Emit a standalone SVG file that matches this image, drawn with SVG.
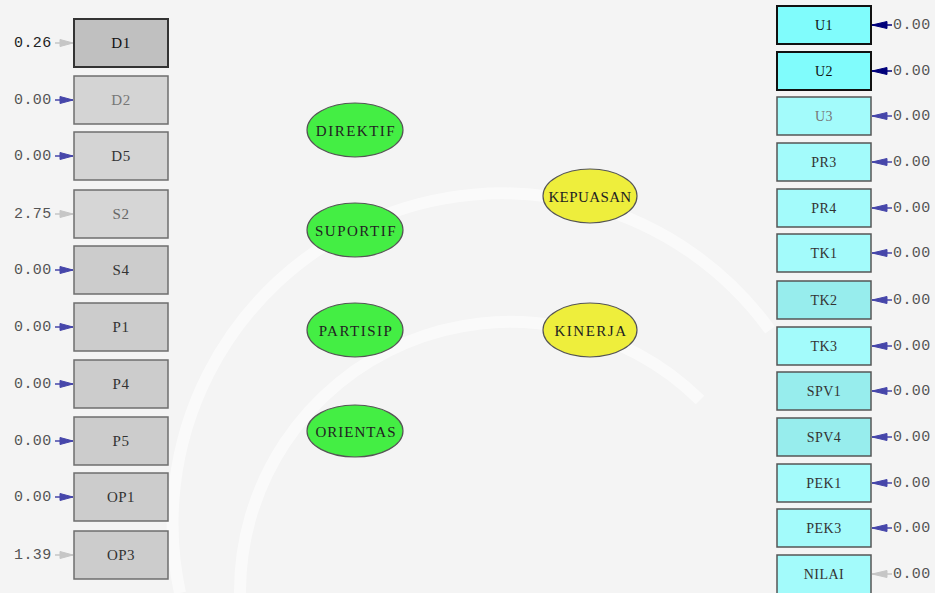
<svg xmlns="http://www.w3.org/2000/svg" width="935" height="593" viewBox="0 0 935 593">
<style>
.bg{fill:#f4f4f4}
.wm{fill:none;stroke:#ffffff;stroke-width:12;opacity:0.55}
.lbox{fill:#cccccc;stroke:#6e6e6e;stroke-width:1.5}
.lbox.dark{fill:#c0c0c0;stroke:#333;stroke-width:2}
.rbox{fill:#a3fbfb;stroke:#555;stroke-width:1.5}
.rbox.dark{fill:#80fcfc;stroke:#111;stroke-width:2}
.grn{fill:#44ee44;stroke:#555;stroke-width:1.2}
.yel{fill:#eeee3c;stroke:#555;stroke-width:1.2}
.t{font-family:"Liberation Serif","DejaVu Serif",serif;text-anchor:middle;dominant-baseline:central}
.bl{font-size:15px;fill:#333;letter-spacing:0.5px}
.br{font-size:14px;fill:#333;letter-spacing:0.5px}
.el{font-size:15px;fill:#222;letter-spacing:1.5px}
.num{font-family:"Liberation Mono","DejaVu Sans Mono",monospace;font-size:15px;fill:#555;dominant-baseline:central;letter-spacing:0.4px}
.blue{stroke:#4646aa;fill:#4646aa}
.navy{stroke:#00007a;fill:#00007a}
.gray{stroke:#c6c6c6;fill:#c6c6c6}
.ln{stroke-width:1.5}
</style>
<rect class="bg" x="0" y="0" width="935" height="593"/>
<g id="watermark">
<path class="wm" d="M180 593 A 330 330 0 0 1 770 330"/>
<path class="wm" d="M240 593 A 270 270 0 0 1 700 400"/>
</g>
<g id="connectors">
<g id="left-arrows">
<line class="gray ln" x1="55" y1="43" x2="73" y2="43"/><polygon class="gray" points="73,43 60,39.5 60,46.5"/>
<line class="blue ln" x1="55" y1="100" x2="73" y2="100"/><polygon class="blue" points="73,100 60,96.5 60,103.5"/>
<line class="blue ln" x1="55" y1="156" x2="73" y2="156"/><polygon class="blue" points="73,156 60,152.5 60,159.5"/>
<line class="gray ln" x1="55" y1="214" x2="73" y2="214"/><polygon class="gray" points="73,214 60,210.5 60,217.5"/>
<line class="blue ln" x1="55" y1="270" x2="73" y2="270"/><polygon class="blue" points="73,270 60,266.5 60,273.5"/>
<line class="blue ln" x1="55" y1="327" x2="73" y2="327"/><polygon class="blue" points="73,327 60,323.5 60,330.5"/>
<line class="blue ln" x1="55" y1="384" x2="73" y2="384"/><polygon class="blue" points="73,384 60,380.5 60,387.5"/>
<line class="blue ln" x1="55" y1="441" x2="73" y2="441"/><polygon class="blue" points="73,441 60,437.5 60,444.5"/>
<line class="blue ln" x1="55" y1="497" x2="73" y2="497"/><polygon class="blue" points="73,497 60,493.5 60,500.5"/>
<line class="gray ln" x1="55" y1="555" x2="73" y2="555"/><polygon class="gray" points="73,555 60,551.5 60,558.5"/>
</g>
<g id="right-arrows">
<line class="navy ln" x1="892" y1="25" x2="872" y2="25"/><polygon class="navy" points="872,25 887,21.5 887,28.5"/>
<line class="navy ln" x1="892" y1="71" x2="872" y2="71"/><polygon class="navy" points="872,71 887,67.5 887,74.5"/>
<line class="blue ln" x1="892" y1="116" x2="872" y2="116"/><polygon class="blue" points="872,116 887,112.5 887,119.5"/>
<line class="blue ln" x1="892" y1="162" x2="872" y2="162"/><polygon class="blue" points="872,162 887,158.5 887,165.5"/>
<line class="blue ln" x1="892" y1="208" x2="872" y2="208"/><polygon class="blue" points="872,208 887,204.5 887,211.5"/>
<line class="blue ln" x1="892" y1="253" x2="872" y2="253"/><polygon class="blue" points="872,253 887,249.5 887,256.5"/>
<line class="blue ln" x1="892" y1="300" x2="872" y2="300"/><polygon class="blue" points="872,300 887,296.5 887,303.5"/>
<line class="blue ln" x1="892" y1="346" x2="872" y2="346"/><polygon class="blue" points="872,346 887,342.5 887,349.5"/>
<line class="blue ln" x1="892" y1="391" x2="872" y2="391"/><polygon class="blue" points="872,391 887,387.5 887,394.5"/>
<line class="blue ln" x1="892" y1="437" x2="872" y2="437"/><polygon class="blue" points="872,437 887,433.5 887,440.5"/>
<line class="blue ln" x1="892" y1="483" x2="872" y2="483"/><polygon class="blue" points="872,483 887,479.5 887,486.5"/>
<line class="blue ln" x1="892" y1="528" x2="872" y2="528"/><polygon class="blue" points="872,528 887,524.5 887,531.5"/>
<line class="gray ln" x1="892" y1="574" x2="872" y2="574"/><polygon class="gray" points="872,574 887,570.5 887,577.5"/>
</g>
</g>
<g id="left-values">
<text class="num" x="14" y="43" style="fill:#222">0.26</text>
<text class="num" x="14" y="100">0.00</text>
<text class="num" x="14" y="156">0.00</text>
<text class="num" x="14" y="214">2.75</text>
<text class="num" x="14" y="270">0.00</text>
<text class="num" x="14" y="327">0.00</text>
<text class="num" x="14" y="384">0.00</text>
<text class="num" x="14" y="441">0.00</text>
<text class="num" x="14" y="497">0.00</text>
<text class="num" x="14" y="555">1.39</text>
</g>
<g id="right-values">
<text class="num" x="893" y="25">0.00</text>
<text class="num" x="893" y="71">0.00</text>
<text class="num" x="893" y="116">0.00</text>
<text class="num" x="893" y="162">0.00</text>
<text class="num" x="893" y="208">0.00</text>
<text class="num" x="893" y="253">0.00</text>
<text class="num" x="893" y="300">0.00</text>
<text class="num" x="893" y="346">0.00</text>
<text class="num" x="893" y="391">0.00</text>
<text class="num" x="893" y="437">0.00</text>
<text class="num" x="893" y="483">0.00</text>
<text class="num" x="893" y="528">0.00</text>
<text class="num" x="893" y="574">0.00</text>
</g>
<g id="D1"><rect class="lbox dark" x="74" y="19" width="94" height="48"/><text class="t bl" x="121" y="43" style="fill:#111">D1</text></g>
<g id="D2"><rect class="lbox" x="74" y="76" width="94" height="48" style="fill:#d4d4d4"/><text class="t bl" x="121" y="100" style="fill:#777">D2</text></g>
<g id="D5"><rect class="lbox" x="74" y="132" width="94" height="48" style="fill:#d4d4d4"/><text class="t bl" x="121" y="156">D5</text></g>
<g id="S2"><rect class="lbox" x="74" y="190" width="94" height="48" style="fill:#d6d6d6"/><text class="t bl" x="121" y="214" style="fill:#666">S2</text></g>
<g id="S4"><rect class="lbox" x="74" y="246" width="94" height="48"/><text class="t bl" x="121" y="270">S4</text></g>
<g id="P1"><rect class="lbox" x="74" y="303" width="94" height="48"/><text class="t bl" x="121" y="327">P1</text></g>
<g id="P4"><rect class="lbox" x="74" y="360" width="94" height="48"/><text class="t bl" x="121" y="384">P4</text></g>
<g id="P5"><rect class="lbox" x="74" y="417" width="94" height="48"/><text class="t bl" x="121" y="441">P5</text></g>
<g id="OP1"><rect class="lbox" x="74" y="473" width="94" height="48"/><text class="t bl" x="121" y="497">OP1</text></g>
<g id="OP3"><rect class="lbox" x="74" y="531" width="94" height="48"/><text class="t bl" x="121" y="555">OP3</text></g>
<g id="DIREKTIF"><ellipse class="grn" cx="355" cy="130" rx="48" ry="27"/><text class="t el" x="356" y="131">DIREKTIF</text></g>
<g id="SUPORTIF"><ellipse class="grn" cx="355" cy="230" rx="48" ry="27"/><text class="t el" x="356" y="231">SUPORTIF</text></g>
<g id="PARTISIP"><ellipse class="grn" cx="355" cy="330" rx="48" ry="27"/><text class="t el" x="356" y="331">PARTISIP</text></g>
<g id="ORIENTAS"><ellipse class="grn" cx="355" cy="431" rx="48" ry="26"/><text class="t el" x="356" y="432" style="letter-spacing:1px">ORIENTAS</text></g>
<g id="KEPUASAN"><ellipse class="yel" cx="590" cy="196" rx="47" ry="27"/><text class="t el" x="590" y="197" style="letter-spacing:0.4px">KEPUASAN</text></g>
<g id="KINERJA"><ellipse class="yel" cx="590" cy="330" rx="47" ry="27"/><text class="t el" x="591" y="331">KINERJA</text></g>
<g id="U1"><rect class="rbox dark" x="777" y="6" width="94" height="38"/><text class="t br" x="824" y="25" style="fill:#111">U1</text></g>
<g id="U2"><rect class="rbox dark" x="777" y="52" width="94" height="38"/><text class="t br" x="824" y="71" style="fill:#111">U2</text></g>
<g id="U3"><rect class="rbox" x="777" y="97" width="94" height="38"/><text class="t br" x="824" y="116" style="fill:#777">U3</text></g>
<g id="PR3"><rect class="rbox" x="777" y="143" width="94" height="38"/><text class="t br" x="824" y="162">PR3</text></g>
<g id="PR4"><rect class="rbox" x="777" y="189" width="94" height="38"/><text class="t br" x="824" y="208">PR4</text></g>
<g id="TK1"><rect class="rbox" x="777" y="234" width="94" height="38"/><text class="t br" x="824" y="253">TK1</text></g>
<g id="TK2"><rect class="rbox" x="777" y="281" width="94" height="38" style="fill:#97eded"/><text class="t br" x="824" y="300">TK2</text></g>
<g id="TK3"><rect class="rbox" x="777" y="327" width="94" height="38"/><text class="t br" x="824" y="346">TK3</text></g>
<g id="SPV1"><rect class="rbox" x="777" y="372" width="94" height="38" style="fill:#97eded"/><text class="t br" x="824" y="391">SPV1</text></g>
<g id="SPV4"><rect class="rbox" x="777" y="418" width="94" height="38" style="fill:#97eded"/><text class="t br" x="824" y="437">SPV4</text></g>
<g id="PEK1"><rect class="rbox" x="777" y="464" width="94" height="38"/><text class="t br" x="824" y="483">PEK1</text></g>
<g id="PEK3"><rect class="rbox" x="777" y="509" width="94" height="38"/><text class="t br" x="824" y="528">PEK3</text></g>
<g id="NILAI"><rect class="rbox" x="777" y="555" width="94" height="40"/><text class="t br" x="824" y="574">NILAI</text></g>
</svg>
